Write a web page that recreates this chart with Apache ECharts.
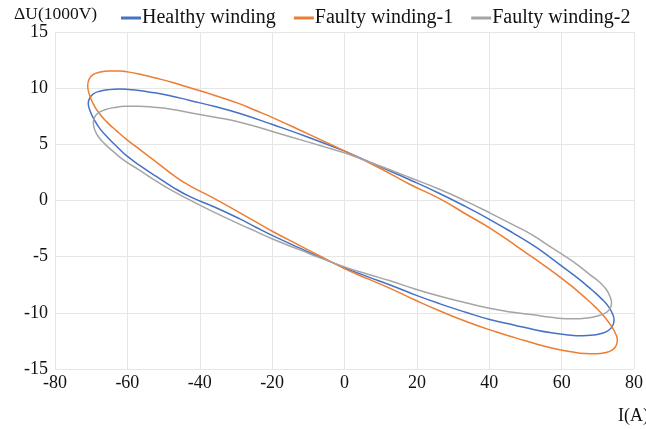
<!DOCTYPE html>
<html>
<head>
<meta charset="utf-8">
<script src="https://cdn.jsdelivr.net/npm/echarts@6/dist/echarts.min.js"></script>
<style>html,body{margin:0;padding:0;background:#fff}#c{width:646px;height:429px}</style>
</head>
<body>
<div id="c"></div>
<script>
const seriesNames = ['Healthy winding', 'Faulty winding-1', 'Faulty winding-2'];
const xTicks = [-80, -60, -40, -20, 0, 20, 40, 60, 80];
const yTicks = [-15, -10, -5, 0, 5, 10, 15];
const xName = 'I(A)';
const yName = 'ΔU(1000V)';

// Loops, [I(A), ΔU(1000V)], starting mid upper branch
const healthy = [
  [0.4,4.35],[9.8,3.01],[18,1.85],[26.4,0.6],[33.5,-0.55],[40.4,-1.74],[46.5,-2.88],[52.4,-4.05],[57,-5.1],
  [60.7,-6.0],[64.8,-7.0],[68.3,-7.95],[71.2,-8.8],[73.0,-9.47],[74.1,-10.12],[74.5,-10.64],[74.1,-11.15],
  [73.0,-11.55],[71.2,-11.82],[68.7,-11.98],[65.6,-12.04],[61.8,-11.97],[57.2,-11.78],[52.5,-11.5],[47,-11.1],
  [40.4,-10.62],[33.5,-9.95],[26.4,-9.2],[19.5,-8.4],[12.6,-7.52],[6.5,-6.8],[0.4,-6.04],[-6,-5.15],[-12.5,-4.22],
  [-19.7,-3.15],[-24.5,-2.38],[-28.9,-1.64],[-35.8,-0.6],[-42.7,0.34],[-47.5,1.2],[-51.9,2.12],[-56,3.0],
  [-59.9,3.9],[-62.6,4.7],[-65.1,5.5],[-67.6,6.4],[-69.35,7.3],[-70.4,8.05],[-70.8,8.65],[-70.45,9.1],
  [-69.4,9.5],[-67.6,9.73],[-65.1,9.87],[-62,9.92],[-58.5,9.86],[-54,9.66],[-48.5,9.35],[-42.7,8.9],
  [-35.8,8.36],[-28.9,7.74],[-19.7,6.74],[-10.4,5.68],[0.4,4.35]
];
const faulty1 = [
  [0.4,4.35],[9.8,2.87],[18,1.45],[26.4,0.15],[33.5,-1.2],[40.4,-2.5],[47.7,-4.1],[53.2,-5.33],[58.2,-6.48],
  [62.6,-7.58],[66.4,-8.62],[69.6,-9.58],[72.1,-10.46],[73.9,-11.25],[75.0,-11.93],[75.4,-12.42],[75.0,-12.97],
  [73.9,-13.32],[72.1,-13.55],[69.6,-13.65],[66.4,-13.63],[62.6,-13.47],[58,-13.18],[53.2,-12.8],[47.5,-12.25],
  [41.8,-11.69],[34,-10.82],[26.4,-9.84],[19.5,-8.86],[12.6,-7.82],[6.5,-6.98],[0.4,-6.13],[-6,-5.07],[-12.5,-3.99],
  [-19.7,-2.78],[-24.5,-1.9],[-28.9,-1.1],[-35.8,0.15],[-42.7,1.3],[-47.5,2.3],[-51.9,3.4],[-56,4.4],
  [-59.9,5.35],[-63,6.2],[-65.7,7.0],[-68,7.85],[-69.6,8.7],[-70.5,9.45],[-70.96,10.2],[-70.6,10.8],
  [-69.5,11.2],[-67.6,11.43],[-65,11.53],[-62,11.52],[-59.9,11.45],[-56,11.2],[-51.9,10.88],[-47.5,10.5],
  [-42.7,10.03],[-35.8,9.35],[-28.9,8.6],[-24.7,8.03],[-19.7,7.36],[-10.4,5.98],[-5,5.17],[0.4,4.35]
];
const faulty2 = [
  [0.4,4.2],[9.8,3.07],[18,2.05],[26.4,0.98],[33.5,-0.05],[40.4,-1.14],[46.5,-2.15],[52.1,-3.1],[56.5,-4.05],
  [60.7,-4.9],[64.5,-5.75],[67.8,-6.6],[70.6,-7.3],[72.4,-7.95],[73.4,-8.57],[73.8,-9.15],[73.4,-9.6],
  [72.4,-9.95],[70.6,-10.22],[68.1,-10.42],[65,-10.52],[61.3,-10.53],[57,-10.4],[52.1,-10.18],[46.5,-9.95],
  [40.4,-9.62],[33.5,-9.1],[26.4,-8.53],[19.5,-7.88],[12.6,-7.15],[6.5,-6.57],[0.4,-5.95],[-6,-5.2],[-12.5,-4.37],
  [-19.7,-3.45],[-24.5,-2.75],[-28.9,-2.12],[-35.8,-1.08],[-42.7,0.04],[-47.5,0.85],[-51.9,1.7],[-56.9,2.75],
  [-60.6,3.5],[-63.7,4.3],[-66.2,5.02],[-68,5.68],[-69.05,6.33],[-69.4,6.92],[-69.05,7.42],[-68,7.8],
  [-66.2,8.08],[-63.7,8.27],[-60.6,8.38],[-56.9,8.39],[-52.6,8.3],[-47.5,8.11],[-42.7,7.82],[-35.8,7.42],
  [-28.9,6.97],[-19.7,6.12],[-10.4,5.24],[0.4,4.2]
];

const colors = ['#4472C4', '#ED7D31', '#A5A5A5'];
const font = '"Liberation Serif", "Times New Roman", serif';
const chart = echarts.init(document.getElementById('c'), null, {renderer: 'canvas'});
const gridColor = '#e6e6e6';
chart.setOption({
  animation: false,
  color: colors,
  textStyle: {fontFamily: font},
  grid: {left: 55, right: 12, top: 32, bottom: 60, containLabel: false, outerBoundsMode: 'none'},
  legend: {
    left: 116, top: 3, itemWidth: 20, itemHeight: 3, itemGap: 18, icon: 'rect',
    textStyle: {fontFamily: font, fontSize: 20, color: '#111', padding: [0,0,0,-4]},
    data: seriesNames
  },
  graphic: [
    {type: 'text', left: 14, top: 5, style: {text: yName, font: '17.5px ' + font, fill: '#111'}},
    {type: 'text', right: -3, top: 407, style: {text: xName, font: '18px ' + font, fill: '#111'}}
  ],
  xAxis: {
    type: 'value', min: xTicks[0], max: xTicks[xTicks.length-1], interval: 20,
    axisLine: {show: true, lineStyle: {color: gridColor}},
    axisTick: {show: false},
    splitLine: {show: true, lineStyle: {color: gridColor}},
    axisLabel: {fontFamily: font, fontSize: 18, color: '#111', margin: 5}
  },
  yAxis: {
    type: 'value', min: yTicks[0], max: yTicks[yTicks.length-1], interval: 5,
    axisLine: {show: false},
    axisTick: {show: false},
    splitLine: {show: true, lineStyle: {color: gridColor}},
    axisLabel: {fontFamily: font, fontSize: 18, color: '#111', margin: 7}
  },
  series: [healthy, faulty1, faulty2].map((d, i) => ({
    type: 'line', name: seriesNames[i], data: d, smooth: 0.5, showSymbol: false, symbol: 'none',
    lineStyle: {width: 1.5, color: colors[i]}, itemStyle: {color: colors[i]}
  }))
});
</script>
</body>
</html>
